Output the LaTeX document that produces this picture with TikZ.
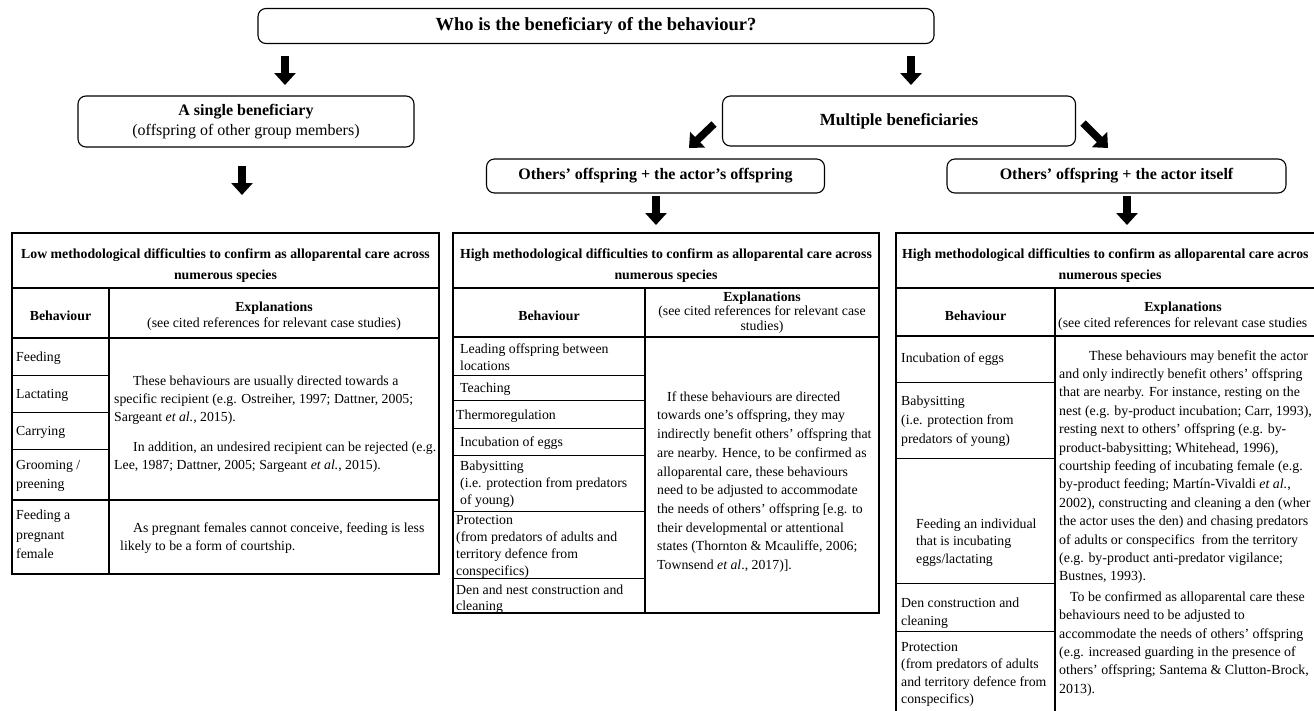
\documentclass[tikz,border=0pt]{standalone}
\usepackage{fontspec}
\setmainfont{Liberation Serif}
\usetikzlibrary{arrows.meta}
\newcommand{\bodyfs}{\fontsize{13.8}{18.4}\selectfont}
\begin{document}
\begin{tikzpicture}[x=1pt,y=-1pt,
  rbox/.style={draw, rounded corners=8pt, line width=1.1pt, inner sep=0pt, align=center, font=\fontsize{16}{19.5}\selectfont},
  bigarrow/.style={line width=7.5pt, -{Triangle[width=21pt,length=12pt]}},
  outer/.style={line width=1.5pt},
  inner/.style={line width=0.8pt},
  nw/.style={inner sep=0pt, anchor=north west, align=left},
  bw/.style={inner sep=0pt, anchor=base west, font=\bodyfs},
  ttl/.style={inner sep=0pt, anchor=north, align=center, font=\fontsize{13.8}{21}\selectfont\bfseries},
  beh/.style={inner sep=0pt, anchor=base, font=\fontsize{13.8}{18.4}\selectfont\bfseries},
]
\useasboundingbox (0,0) rectangle (1314,710);
\fill[white] (0,0) rectangle (1314,710);
\clip (0,0) rectangle (1314,710);

% ---------- decision boxes ----------
\node[rbox, minimum width=676pt, minimum height=35pt, font=\fontsize{18.5}{21}\selectfont\bfseries] (title) at (596,26) {Who is the beneficiary of the behaviour?};
\node[rbox, minimum width=336pt, minimum height=51pt] (single) at (246,121.5) {\textbf{A single beneficiary}\\(offspring of other group members)};
\node[rbox, minimum width=353pt, minimum height=50pt, font=\fontsize{17}{19.5}\selectfont\bfseries] (multi) at (899,121) {Multiple beneficiaries};
\node[rbox, minimum width=338pt, minimum height=34pt, font=\fontsize{16}{19.5}\selectfont\bfseries] (ownoff) at (655.5,176) {Others’ offspring + the actor’s offspring};
\node[rbox, minimum width=339pt, minimum height=34pt, font=\fontsize{16}{19.5}\selectfont\bfseries] (itself) at (1116.5,176) {Others’ offspring + the actor itself};

% ---------- arrows ----------
\coordinate (a1s) at (285,56);  \coordinate (a1e) at (285,85);
\coordinate (a2s) at (911,56);  \coordinate (a2e) at (911,85);
\coordinate (a3s) at (242,166); \coordinate (a3e) at (242,195);
\coordinate (a4s) at (656,196); \coordinate (a4e) at (656,225);
\coordinate (a5s) at (1127,196);\coordinate (a5e) at (1127,225);
\coordinate (d1s) at (714,124); \coordinate (d1e) at (689,148);
\coordinate (d2s) at (1083,123);\coordinate (d2e) at (1108,148);
\draw[bigarrow] (a1s) -- (a1e);
\draw[bigarrow] (a2s) -- (a2e);
\draw[bigarrow] (a3s) -- (a3e);
\draw[bigarrow] (a4s) -- (a4e);
\draw[bigarrow] (a5s) -- (a5e);
\draw[bigarrow] (d1s) -- (d1e);
\draw[bigarrow] (d2s) -- (d2e);

% ---------- left table ----------
\draw[inner] (12,375) -- (109,375) (12,412) -- (109,412) (12,449) -- (109,449);
\draw[outer] (12,233) rectangle (439,574);
\draw[outer] (12,288) -- (439,288) (12,338) -- (439,338) (12,500) -- (439,500);
\draw[outer] (109,288) -- (109,574);
\node[ttl] (lt) at (225.5,243.3) {\strut Low methodological difficulties to confirm as alloparental care across\\numerous species};
\node[beh] (lbh) at (60.5,320) {Behaviour};
\node[inner sep=0pt, anchor=north, align=center, font=\fontsize{13.8}{16}\selectfont] (lex) at (274,299.8) {\strut\textbf{Explanations}\\(see cited references for relevant case studies)};
\node[bw] (lb1) at (16,361) {Feeding};
\node[bw] (lb2) at (16,398) {Lactating};
\node[bw] (lb3) at (16,435) {Carrying};
\node[nw, font=\fontsize{13.8}{19}\selectfont] (lb4) at (16,455.7) {\strut Grooming /\\preening};
\node[nw, font=\fontsize{13.8}{19.5}\selectfont] (lb5) at (16,506) {\strut Feeding a\\pregnant\\female};
\node[nw, font=\bodyfs] (le1) at (114,372.1) {\strut\hspace*{19pt}These behaviours are usually directed towards a\\specific recipient (e.g. Ostreiher, 1997; Dattner, 2005;\\Sargeant \textit{et al.,} 2015).\\[11pt]\hspace*{19pt}In addition, an undesired recipient can be rejected (e.g.\\Lee, 1987; Dattner, 2005; Sargeant \textit{et al.}, 2015).};
\node[nw, font=\bodyfs] (le2) at (114,519) {\strut\hspace*{19pt}As pregnant females cannot conceive, feeding is less\\\hspace*{6pt}likely to be a form of courtship.};

% ---------- middle table ----------
\draw[inner] (453,375) -- (645,375) (453,400) -- (645,400) (453,428) -- (645,428) (453,455) -- (645,455) (453,511) -- (645,511) (453,578) -- (645,578);
\draw[outer] (453,233) rectangle (879,613);
\draw[outer] (453,288) -- (879,288) (453,337) -- (879,337);
\draw[outer] (645,288) -- (645,613);
\node[ttl] (mt) at (666,243.3) {\strut High methodological difficulties to confirm as alloparental care across\\numerous species};
\node[beh] (mbh) at (549,320) {Behaviour};
\node[inner sep=0pt, anchor=north, align=center, font=\fontsize{13.8}{14.5}\selectfont] (mex) at (762,290.9) {\strut\textbf{Explanations}\\(see cited references for relevant case\\studies)};
\node[nw, font=\fontsize{13.8}{17}\selectfont] (mb1) at (460,341.1) {\strut Leading offspring between\\locations};
\node[bw] (mb2) at (460,392) {Teaching};
\node[bw] (mb3) at (456,419) {Thermoregulation};
\node[bw] (mb4) at (460,446) {Incubation of eggs};
\node[nw, font=\fontsize{13.8}{17}\selectfont] (mb5) at (460,458.1) {\strut Babysitting\\(i.e. protection from predators\\of young)};
\node[nw, font=\fontsize{13.8}{17}\selectfont] (mb6) at (456,512.1) {\strut Protection\\(from predators of adults and\\territory defence from\\conspecifics)};
\node[nw, font=\fontsize{13.8}{16}\selectfont] (mb7) at (456,583) {\strut Den and nest construction and\\cleaning};
\node[nw, font=\fontsize{13.8}{18.7}\selectfont] (me1) at (657,387.9) {\strut\hspace*{10pt}If these behaviours are directed\\towards one’s offspring, they may\\indirectly benefit others’ offspring that\\are nearby. Hence, to be confirmed as\\alloparental care, these behaviours\\need to be adjusted to accommodate\\the needs of others’ offspring [e.g. to\\their developmental or attentional\\states (Thornton \& Mcauliffe, 2006;\\Townsend \textit{et al}., 2017)].};

% ---------- right table (cut by the picture's right and bottom edges) ----------
\draw[inner] (896,382) -- (1055,382) (896,458) -- (1055,458) (896,583) -- (1055,583) (896,631) -- (1055,631);
\draw[outer] (896,233) rectangle (1330,720);
\draw[outer] (896,288) -- (1330,288) (896,336) -- (1330,336);
\draw[outer] (1055,288) -- (1055,720);
\node[inner sep=0pt, anchor=base west, font=\fontsize{13.8}{21}\selectfont\bfseries] (rt) at (902,258) {High methodological difficulties to confirm as alloparental care acros};
\node[inner sep=0pt, anchor=base, font=\fontsize{13.8}{21}\selectfont\bfseries] (rt2) at (1110,279) {numerous species};
\node[beh] (rbh) at (975.5,320) {Behaviour};
\node[inner sep=0pt, anchor=base, font=\fontsize{13.8}{16}\selectfont\bfseries] (rex) at (1183,311) {Explanations};
\node[inner sep=0pt, anchor=base west, font=\fontsize{13.8}{16}\selectfont] (rex2) at (1058,327) {(see cited references for relevant case studies};
\node[bw] (rb1) at (901,362) {Incubation of eggs};
\node[nw, font=\fontsize{13.8}{19}\selectfont] (rb2) at (901,391.7) {\strut Babysitting\\(i.e. protection from\\predators of young)};
\node[nw, font=\fontsize{13.8}{17.5}\selectfont] (rb3) at (916,516) {\strut Feeding an individual\\that is incubating\\eggs/lactating};
\node[nw, font=\fontsize{13.8}{18}\selectfont] (rb4) at (901,594.4) {\strut Den construction and\\cleaning};
\node[nw, font=\fontsize{13.8}{17.5}\selectfont] (rb5) at (901,638.8) {\strut Protection\\(from predators of adults\\and territory defence from\\conspecifics)};
\node[nw, font=\fontsize{13.9}{18.4}\selectfont] (re1) at (1059,347.1) {\strut\hspace*{30pt}These behaviours may benefit the actor\\and only indirectly benefit others’ offspring\\that are nearby. For instance, resting on the\\nest (e.g. by-product incubation; Carr, 1993),\\resting next to others’ offspring (e.g. by-\\product-babysitting; Whitehead, 1996),\\courtship feeding of incubating female (e.g.\\by-product feeding; Martín-Vivaldi \textit{et al.},\\2002), constructing and cleaning a den (wher\\the actor uses the den) and chasing predators\\of adults or conspecifics\ \ from the territory\\(e.g. by-product anti-predator vigilance;\\Bustnes, 1993).\\[2pt]\hspace*{11pt}To be confirmed as alloparental care these\\behaviours need to be adjusted to\\accommodate the needs of others’ offspring\\(e.g. increased guarding in the presence of\\others’ offspring; Santema \& Clutton-Brock,\\2013).};
\end{tikzpicture}
\end{document}
